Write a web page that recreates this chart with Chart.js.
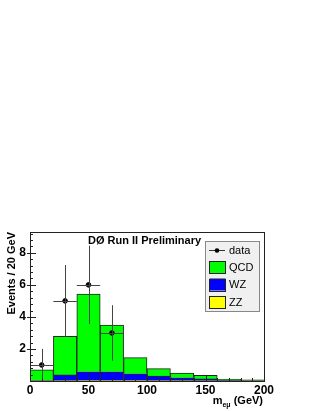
<!DOCTYPE html>
<html>
<head>
<meta charset="utf-8">
<script src="https://cdn.jsdelivr.net/npm/chart.js@4"></script>
<style>
  html, body { margin: 0; padding: 0; background: #fff; }
  #wrap { position: relative; width: 317px; height: 411px; }
</style>
</head>
<body>
<div id="wrap"><canvas id="chart"></canvas></div>
<script>
// bin centres (GeV), 20 GeV wide bins
const binCenters = [10, 30, 50, 70, 90, 110, 130, 150, 170, 190];
// stacked MC contributions (events / 20 GeV)
const zzValues  = [0.01, 0.02, 0.03, 0.03, 0.03, 0.02, 0.02, 0.01, 0.01, 0.01];
const wzValues  = [0.02, 0.36, 0.54, 0.54, 0.42, 0.28, 0.18, 0.12, 0.03, 0.02];
const qcdValues = [0.67, 2.41, 4.85, 2.92, 1.01, 0.47, 0.30, 0.23, 0.06, 0.05];
// data points with Poisson errors
const dataX = [10, 30, 50, 70];
const dataY = [1, 5, 6, 3];
const dataErrY = [1, 2.24, 2.45, 1.73];
const dataErrX = [10, 10, 10, 10];
// axis ticks
const xTicks = [0, 50, 100, 150, 200];
const yTicks = [2, 4, 6, 8];

const FONT = '"Liberation Sans", Arial, Helvetica, sans-serif';

const toXY = vals => vals.map((v, i) => ({ x: binCenters[i], y: v }));

const barStyle = (label, color) => ({
  label: label,
  data: null,
  backgroundColor: color,
  borderColor: '#222',
  borderWidth: { top: 1, left: 1, right: 1, bottom: 0 },
  borderSkipped: false,
  barPercentage: 1.0,
  categoryPercentage: 1.0,
  stack: 'mc'
});

const zzSet = Object.assign(barStyle('ZZ', '#ffff00'), { data: toXY(zzValues) });
const wzSet = Object.assign(barStyle('WZ', '#0000ff'), { data: toXY(wzValues) });
const qcdSet = Object.assign(barStyle('QCD', '#00ff00'), { data: toXY(qcdValues) });

const dataSet = {
  type: 'scatter',
  label: 'data',
  data: dataX.map((x, i) => ({ x: x, y: dataY[i] })),
  backgroundColor: '#000',
  borderColor: '#000',
  pointRadius: 2.3,
  stack: 'data',
  order: -1
};

// frame, ticks, error bars, texts, legend
const decorations = {
  id: 'decorations',
  afterDatasetsDraw(chart) {
    const c = chart.ctx;
    const xs = chart.scales.x, ys = chart.scales.y;
    const a = chart.chartArea;
    c.save();

    // error bars
    c.strokeStyle = '#444';
    c.lineWidth = 1;
    dataX.forEach((x, i) => {
      const px = Math.round(xs.getPixelForValue(x)) + 0.5;
      const py = Math.round(ys.getPixelForValue(dataY[i])) + 0.5;
      const yLo = ys.getPixelForValue(Math.max(0, dataY[i] - dataErrY[i]));
      const yHi = ys.getPixelForValue(dataY[i] + dataErrY[i]);
      c.beginPath();
      c.moveTo(px, yLo); c.lineTo(px, yHi);
      c.moveTo(xs.getPixelForValue(x - dataErrX[i]), py);
      c.lineTo(xs.getPixelForValue(x + dataErrX[i]), py);
      c.stroke();
    });

    // frame
    c.strokeStyle = '#222';
    c.strokeRect(Math.round(a.left) + 0.5, Math.round(a.top) + 0.5,
                 Math.round(a.right - a.left), Math.round(a.bottom - a.top));

    // y ticks (major every 2, minor every 0.4)
    c.beginPath();
    for (let v = 0.4; v < ys.max; v += 0.4) {
      const py = Math.round(ys.getPixelForValue(v)) + 0.5;
      const major = Math.abs(v / 2 - Math.round(v / 2)) < 1e-6;
      c.moveTo(a.left - (major ? 3 : 0), py);
      c.lineTo(a.left + (major ? 6 : 3), py);
    }
    // x ticks (major every 50, minor every 10)
    for (let v = 10; v < xs.max; v += 10) {
      const px = Math.round(xs.getPixelForValue(v)) + 0.5;
      const major = v % 50 === 0;
      c.moveTo(px, a.bottom);
      c.lineTo(px, a.bottom - (major ? 6 : 3));
    }
    c.stroke();

    // preliminary label
    c.fillStyle = '#000';
    c.textBaseline = 'alphabetic';
    c.font = 'bold 11px ' + FONT;
    c.textAlign = 'left';
    c.fillText('DØ Run II Preliminary', 88, 244);

    // y title
    c.save();
    c.translate(15, a.top);
    c.rotate(-Math.PI / 2);
    c.textAlign = 'right';
    c.font = 'bold 11px ' + FONT;
    c.fillText('Events / 20 GeV', 0, 0);
    c.restore();

    // x title m_eμ (GeV), right aligned
    const big = 'bold 11px ' + FONT, small = 'bold 7px ' + FONT;
    c.font = big; const w1 = c.measureText('m').width, w3 = c.measureText(' (GeV)').width;
    c.font = small; const w2 = c.measureText('eμ').width;
    let tx = 263 - (w1 + w2 + w3);
    c.font = big; c.fillText('m', tx, 404); tx += w1;
    c.font = small; c.fillText('eμ', tx, 407); tx += w2;
    c.font = big; c.fillText(' (GeV)', tx, 404);

    // legend
    const lx = 205.5, ly = 241.5, lw = 54, lh = 70;
    c.fillStyle = '#f0f0f0';
    c.fillRect(lx, ly, lw, lh);
    c.strokeStyle = '#888';
    c.strokeRect(lx, ly, lw, lh);
    const entries = [dataSet, qcdSet, wzSet, zzSet];
    const rowY = [250, 267, 284.5, 302];
    c.font = '11px ' + FONT;
    c.textBaseline = 'middle';
    entries.forEach((ds, i) => {
      const y = rowY[i];
      if (ds === dataSet) {
        c.strokeStyle = '#333';
        c.beginPath();
        c.moveTo(209, Math.round(y) + 0.5); c.lineTo(225, Math.round(y) + 0.5);
        c.stroke();
        c.fillStyle = '#000';
        c.beginPath(); c.arc(217, Math.round(y) + 0.5, 2.3, 0, Math.PI * 2); c.fill();
      } else {
        c.fillStyle = ds.backgroundColor;
        c.fillRect(209.5, y - 6, 16, 12);
        c.strokeStyle = '#222';
        c.strokeRect(209.5, Math.round(y - 6) + 0.5, 16, 12);
      }
      c.fillStyle = '#000';
      c.fillText(ds.label, 229, y + 0.5);
    });

    c.restore();
  }
};

new Chart(document.getElementById('chart'), {
  type: 'bar',
  data: { datasets: [zzSet, wzSet, qcdSet, dataSet] },
  options: {
    responsive: true,
    maintainAspectRatio: false,
    animation: false,
    layout: { padding: { top: 232, right: 53, left: 0, bottom: 0 } },
    plugins: { legend: { display: false }, tooltip: { enabled: false } },
    scales: {
      x: {
        type: 'linear',
        min: 0, max: 200,
        offset: false,
        grid: { display: false, drawTicks: false },
        border: { display: false },
        afterBuildTicks: s => { s.ticks = xTicks.map(v => ({ value: v })); },
        afterFit: s => { s.height = 30; },
        ticks: { color: '#000', padding: 2, maxRotation: 0, font: { family: FONT, size: 12, weight: 'bold' } }
      },
      y: {
        stacked: true,
        min: 0, max: 9.3,
        grid: { display: false, drawTicks: false },
        border: { display: false },
        afterBuildTicks: s => { s.ticks = yTicks.map(v => ({ value: v })); },
        afterFit: s => { s.width = 30; },
        ticks: { color: '#000', padding: 4, font: { family: FONT, size: 12, weight: 'bold' } }
      }
    }
  },
  plugins: [decorations]
});
</script>
</body>
</html>
